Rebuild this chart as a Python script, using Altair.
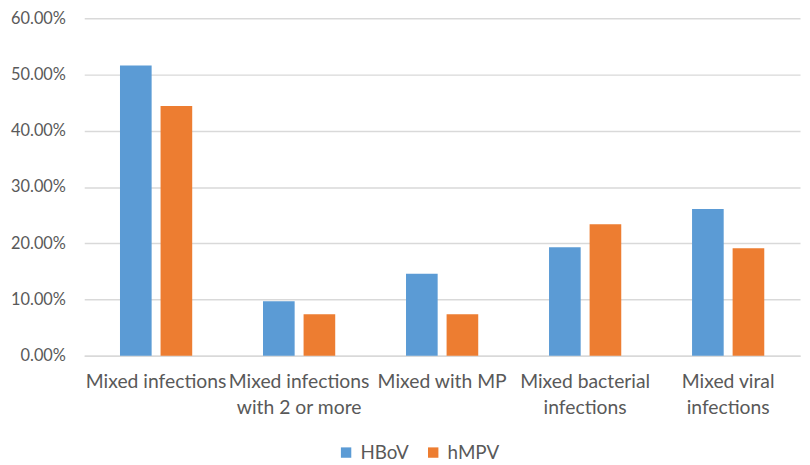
import altair as alt
import pandas as pd

categories = ["Mixed infections", "Mixed infections with 2 or more", "Mixed with MP",
              "Mixed bacterial infections", "Mixed viral infections"]
series = ["HBoV", "hMPV"]
hbov = [0.516, 0.097, 0.146, 0.193, 0.261]
hmpv = [0.444, 0.074, 0.074, 0.234, 0.191]
y_ticks = [0, 0.1, 0.2, 0.3, 0.4, 0.5, 0.6]
colors = ["#5B9BD5", "#ED7D31"]

rows = []
for c, a, b in zip(categories, hbov, hmpv):
    rows.append({"category": c, "series": series[0], "value": a})
    rows.append({"category": c, "series": series[1], "value": b})
df = pd.DataFrame(rows)

label_expr = (
    "datum.value == 'Mixed infections with 2 or more' ? ['Mixed infections', 'with 2 or more'] : "
    "datum.value == 'Mixed bacterial infections' ? ['Mixed bacterial', 'infections'] : "
    "datum.value == 'Mixed viral infections' ? ['Mixed viral', 'infections'] : datum.label"
)

FONT = "Lato"
GRAY = "#595959"

chart = alt.Chart(df).mark_bar().encode(
    x=alt.X(
        "category:N", sort=categories,
        scale=alt.Scale(paddingInner=0.495, paddingOuter=0.25),
        axis=alt.Axis(title=None, labelAngle=0, labelExpr=label_expr, labelFont=FONT,
                      labelFontSize=19.5, labelColor=GRAY, labelPadding=17, ticks=False,
                      domain=True, domainColor="#D9D9D9", domainWidth=1.5,
                      labelLineHeight=26, labelLimit=0),
    ),
    xOffset=alt.XOffset("series:N", sort=series,
                        scale=alt.Scale(paddingInner=0.22, paddingOuter=0)),
    y=alt.Y(
        "value:Q",
        scale=alt.Scale(domain=[0, 0.6], nice=False),
        axis=alt.Axis(title=None, values=y_ticks, format=".2%", labelFont=FONT,
                      labelFontSize=16.5, labelColor=GRAY, labelPadding=19, ticks=False,
                      domain=False, grid=True, gridColor="#D9D9D9", gridWidth=1.5),
    ),
    color=alt.Color(
        "series:N", sort=series,
        scale=alt.Scale(domain=series, range=colors),
        legend=alt.Legend(title=None, orient="none", legendX=255, legendY=429,
                          direction="horizontal", symbolType="square", symbolSize=110,
                          symbolStrokeWidth=0, labelFont=FONT, labelFontSize=19,
                          labelColor=GRAY, columnPadding=15, labelOffset=5),
    ),
).properties(
    width=723, height=341,
    autosize=alt.AutoSizeParams(type="none"),
    padding={"left": 77, "top": 8, "right": 2, "bottom": 108},
).configure_view(stroke=None)

chart.save("out.html", embed_options={"renderer": "svg", "actions": False})
